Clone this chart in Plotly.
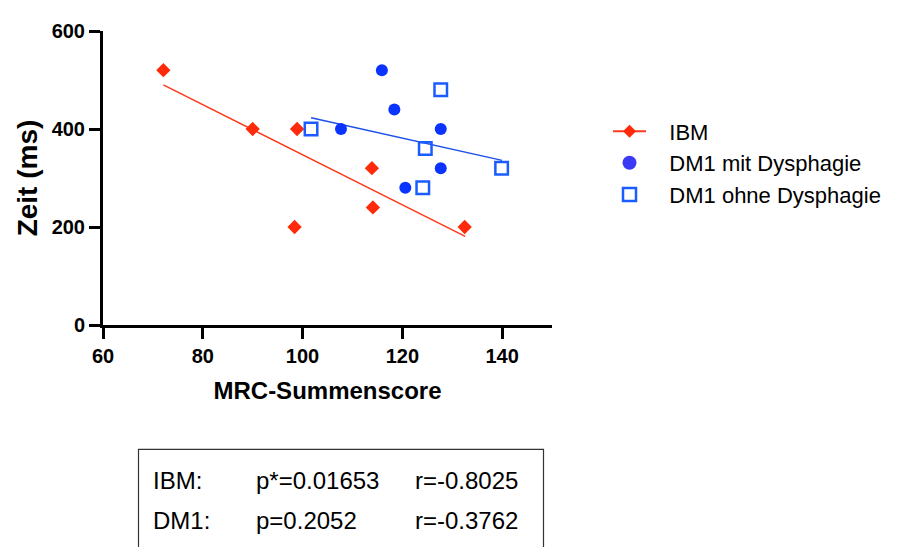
import plotly.graph_objects as go

# IBM
ibm_x = [72.1, 90.0, 98.9, 98.4, 113.9, 114.1, 132.5]
ibm_y = [520, 400, 400, 200, 320, 240, 200]
ibm_fit_x = [72.1, 132.6]
ibm_fit_y = [490, 181]

# DM1 mit Dysphagie
dm1m_x = [115.9, 118.4, 107.7, 127.7, 127.7, 120.6]
dm1m_y = [520, 440, 400, 400, 320, 280]

# DM1 ohne Dysphagie
dm1o_x = [101.7, 127.7, 124.6, 124.1, 139.9]
dm1o_y = [400, 480, 360, 280, 320]

dm1_fit_x = [101.7, 140.0]
dm1_fit_y = [423, 336]

x_ticks = [60, 80, 100, 120, 140]
y_ticks = [0, 200, 400, 600]

legend_names = ["IBM", "DM1 mit Dysphagie", "DM1 ohne Dysphagie"]

stats_rows = [["IBM:", "p*=0.01653", "r=-0.8025"],
              ["DM1:", "p=0.2052", "r=-0.3762"]]

RED = "#FF2A0A"
RED_LINE = "#FF3A1E"
BLUE = "#0A33FF"
BLUE_SQ = "#1A5CFF"
BLUE_LINE = "#1A4FEA"
FONT = "Liberation Sans, Arial, sans-serif"
PAD = "\u00a0\u00a0\u00a0"

fig = go.Figure()

fig.add_trace(go.Scatter(x=ibm_fit_x, y=ibm_fit_y, mode="lines",
                         line=dict(color=RED_LINE, width=1.5), showlegend=False,
                         hoverinfo="skip"))
fig.add_trace(go.Scatter(x=dm1_fit_x, y=dm1_fit_y, mode="lines",
                         line=dict(color=BLUE_LINE, width=1.5), showlegend=False,
                         hoverinfo="skip"))
fig.add_trace(go.Scatter(x=ibm_x, y=ibm_y, mode="markers", name=legend_names[0],
                         marker=dict(symbol="diamond", size=11, color=RED),
                         showlegend=False))
fig.add_trace(go.Scatter(x=dm1m_x, y=dm1m_y, mode="markers", name=legend_names[1],
                         marker=dict(symbol="circle", size=12, color=BLUE),
                         showlegend=False))
fig.add_trace(go.Scatter(x=dm1o_x, y=dm1o_y, mode="markers", name=legend_names[2],
                         marker=dict(symbol="square-open", size=12.5, color=BLUE_SQ,
                                     line=dict(width=2.5, color=BLUE_SQ)),
                         showlegend=False))

# legend entries
fig.add_trace(go.Scatter(x=[None], y=[None], mode="lines+markers", name=PAD + legend_names[0],
                         line=dict(color=RED_LINE, width=2),
                         marker=dict(symbol="diamond", size=10, color=RED),
                         legendgroup="a"))
fig.add_trace(go.Scatter(x=[None], y=[None], mode="markers", name=PAD + legend_names[1],
                         marker=dict(symbol="circle", size=14, color="#3A3AF5"),
                         legendgroup="b"))
fig.add_trace(go.Scatter(x=[None], y=[None], mode="markers", name=PAD + legend_names[2],
                         marker=dict(symbol="square-open", size=13, color=BLUE_SQ,
                                     line=dict(width=2.5, color=BLUE_SQ)),
                         legendgroup="c"))

OFF = 8  # browser body margin
W, H = 905 - OFF, 547 - OFF
L, T = 103 - OFF, 25 - OFF
pw, ph = 449, 300
R = W - L - pw
B = H - T - ph


def px2paper_x(p):
    return (p - OFF - L) / pw


def px2paper_y(p):
    return (T + ph - (p - OFF)) / ph


fig.update_layout(
    width=W, height=H,
    margin=dict(l=L, r=R, t=T, b=B, pad=0),
    paper_bgcolor="white", plot_bgcolor="white",
    font=dict(family=FONT, color="black"),
    showlegend=True,
    legend=dict(x=px2paper_x(608), y=px2paper_y(106), xanchor="left", yanchor="top",
                font=dict(size=22, color="black", family=FONT), traceorder="grouped",
                tracegroupgap=0, bgcolor="rgba(0,0,0,0)", itemwidth=33),
    xaxis=dict(range=[60, 150], tickvals=x_ticks, ticktext=[str(v) for v in x_ticks],
               showline=True, linecolor="black", linewidth=3, mirror=False,
               ticks="outside", ticklen=11, tickwidth=3, tickcolor="black",
               showgrid=False, zeroline=False,
               tickfont=dict(size=20, family=FONT, color="black", weight="bold"),
               title=dict(text="<b>MRC-Summenscore</b>", font=dict(size=24, family=FONT),
                          standoff=17)),
    yaxis=dict(range=[0, 600], tickvals=y_ticks, ticktext=[str(v) for v in y_ticks],
               showline=True, linecolor="black", linewidth=3, mirror=False,
               ticks="outside", ticklen=11, tickwidth=3, tickcolor="black",
               showgrid=False, zeroline=False,
               tickfont=dict(size=20, family=FONT, color="black", weight="bold"),
               title=dict(text="<b>Zeit (ms)</b>", font=dict(size=28, family=FONT),
                          standoff=6)),
)

# stats box
fig.add_shape(type="rect", xref="paper", yref="paper",
              x0=px2paper_x(138.5), x1=px2paper_x(543.5),
              y0=px2paper_y(452), y1=px2paper_y(570),
              line=dict(color="#333333", width=1.2), fillcolor="rgba(0,0,0,0)")

col_px = [151, 254, 413]
row_px = [484, 524]
for ri, row in enumerate(stats_rows):
    for ci, txt in enumerate(row):
        fig.add_annotation(text=txt, xref="paper", yref="paper",
                           x=px2paper_x(col_px[ci]), y=px2paper_y(row_px[ri]),
                           xanchor="left", yanchor="middle", showarrow=False,
                           font=dict(size=24, color="black", family=FONT))

fig.write_html("out.html")
